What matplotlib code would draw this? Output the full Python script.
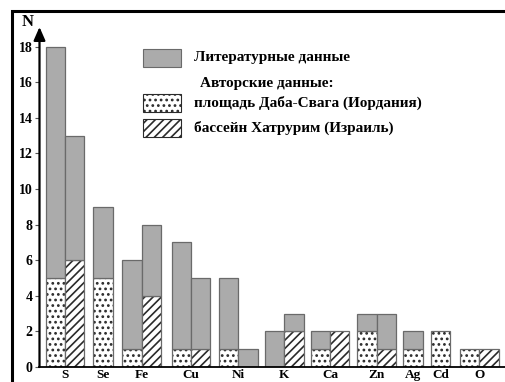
import numpy as np
import matplotlib.pyplot as plt
from matplotlib.patches import Rectangle

plt.rcParams['font.family'] = ['Liberation Serif', 'DejaVu Serif']
plt.rcParams['font.weight'] = 'bold'
plt.rcParams['hatch.linewidth'] = 1.2

elements = ['S', 'Se', 'Fe', 'Cu', 'Ni', 'K', 'Ca', 'Zn', 'Ag', 'Cd', 'O']
# Даба-Свага (Jordan): literature total and own-data part of each bar
jordan_total = [18, 9, 6, 7, 5, 2, 2, 3, 2, 2, 1]
jordan_author = [5, 5, 1, 1, 1, 0, 1, 2, 1, 2, 1]
# Хатрурим (Israel); None where there is no second bar
israel_total = [13, None, 8, 5, 1, 3, 2, 3, None, None, 1]
israel_author = [6, None, 4, 1, 0, 2, 2, 1, None, None, 1]

centers = [1.0, 2.97, 4.98, 7.53, 9.98, 12.36, 14.74, 17.15, 19.03, 20.45, 22.47]

GREY = '#ababab'
EDGE = '#6a6a6a'
DOTS = '...'
LINES = '////'

fig = plt.figure(figsize=(5.06, 3.82), dpi=100)
W, H = 506, 382
ax = fig.add_axes([39.5 / W, 15 / H, (506 - 39.5) / W, (367 - 27) / H])

def draw_bar(x, total, author, hatch):
    if author:
        ax.bar(x, author, width=1.0, color='white', edgecolor='#2a2a2a',
               hatch=hatch, linewidth=0)
        ax.bar(x, author, width=1.0, fill=False, edgecolor=EDGE, linewidth=0.9)
    if total > author:
        ax.bar(x, total - author, bottom=author, width=1.0, color=GREY,
               edgecolor=EDGE, linewidth=0.9)

for i, c in enumerate(centers):
    if israel_total[i] is None:
        draw_bar(c, jordan_total[i], jordan_author[i], DOTS)
    else:
        draw_bar(c - 0.5, jordan_total[i], jordan_author[i], DOTS)
        draw_bar(c + 0.5, israel_total[i], israel_author[i], LINES)

ax.set_xlim(-0.32, 23.85)
ax.set_ylim(0, 19.1)
ax.set_xticks(centers)
ax.set_xticklabels(elements, fontsize=9.5, fontweight='bold')
ax.tick_params(axis='x', length=0, pad=1.5)
ax.set_yticks(np.arange(0, 19, 2))
ax.tick_params(axis='y', length=3, width=0.8, pad=2, labelsize=10, color='#555555')
for lab in ax.get_yticklabels():
    lab.set_fontweight('bold')

for s in ['top', 'right', 'left']:
    ax.spines[s].set_visible(False)
ax.spines['bottom'].set_linewidth(1.3)

# y axis drawn as an arrow
ax.annotate('', xy=(0, 1.0), xytext=(0, 0), xycoords='axes fraction',
            arrowprops=dict(arrowstyle='-|>,head_width=0.35,head_length=0.8',
                            color='black', lw=1.6, shrinkA=0, shrinkB=0))
fig.text(28 / W, 1 - 22 / H, 'N', fontsize=12, fontweight='bold',
         ha='center', va='center')

# legend
legend_items = [
    (58, dict(facecolor=GREY, edgecolor=EDGE), 'Литературные данные'),
    (103, dict(facecolor='white', edgecolor='#2a2a2a', hatch=DOTS),
     'площадь Даба-Свага (Иордания)'),
    (128, dict(facecolor='white', edgecolor='#2a2a2a', hatch=LINES),
     'бассейн Хатрурим (Израиль)'),
]
for yc, style, text in legend_items:
    fig.patches.append(Rectangle((143 / W, 1 - (yc + 9) / H), 38 / W, 18 / H,
                                 transform=fig.transFigure, linewidth=0.8,
                                 **style))
    fig.text(194 / W, 1 - yc / H, text, fontsize=11, fontweight='bold',
             va='center', ha='left')
fig.text(200 / W, 1 - 84 / H, 'Авторские данные:', fontsize=11,
         fontweight='bold', va='center', ha='left')

# outer frame
fig.patches.append(Rectangle((12 / W, -0.1), 1.2, 1 - 11 / H + 0.1,
                             transform=fig.transFigure, fill=False,
                             edgecolor='black', linewidth=2.2))

fig.savefig('out.png', dpi=100)
